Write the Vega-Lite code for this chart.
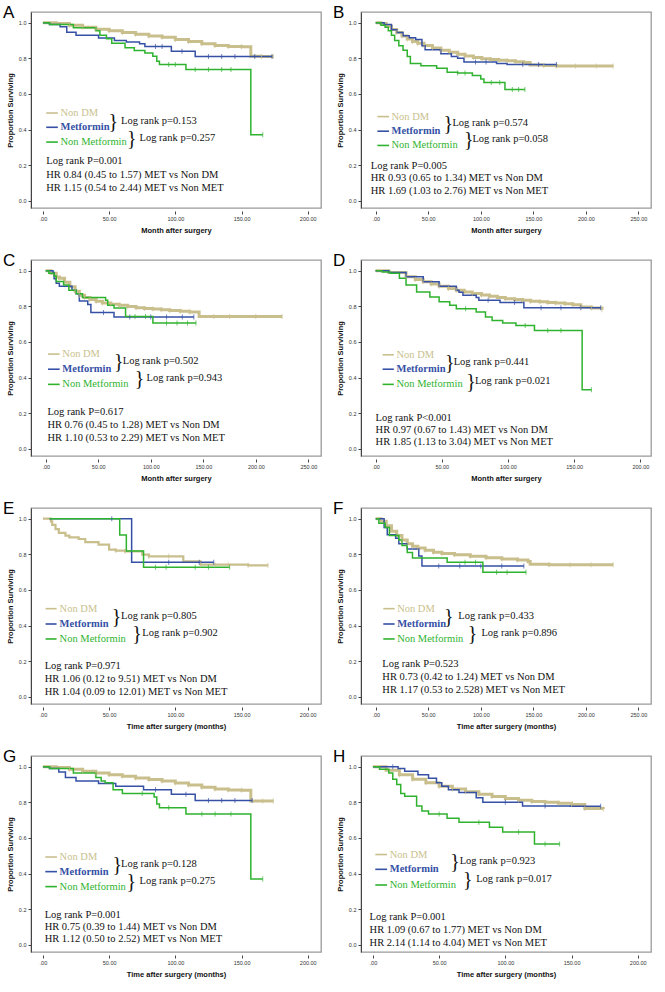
{
"$schema": "https://vega.github.io/schema/vega-lite/v6.json",
"background": "white",
"padding": {"left": 2, "top": 3, "right": 2, "bottom": 0},
"columns": 2,
"spacing": {"row": 16, "column": 10},
"datasets": {
"km": [
{"p":"A","g":"Non DM","t":0,"s":1},{"p":"A","g":"Non DM","t":10,"s":0.995},{"p":"A","g":"Non DM","t":20,"s":0.985,"c":1},{"p":"A","g":"Non DM","t":30,"s":0.975,"c":1},{"p":"A","g":"Non DM","t":40,"s":0.963,"c":1},{"p":"A","g":"Non DM","t":50,"s":0.955,"c":1},{"p":"A","g":"Non DM","t":60,"s":0.945,"c":1},{"p":"A","g":"Non DM","t":70,"s":0.935,"c":1},{"p":"A","g":"Non DM","t":80,"s":0.926,"c":1},{"p":"A","g":"Non DM","t":90,"s":0.918,"c":1},{"p":"A","g":"Non DM","t":100,"s":0.905,"c":1},{"p":"A","g":"Non DM","t":110,"s":0.895,"c":1},{"p":"A","g":"Non DM","t":120,"s":0.882,"c":1},{"p":"A","g":"Non DM","t":130,"s":0.872,"c":1},{"p":"A","g":"Non DM","t":140,"s":0.866,"c":1},{"p":"A","g":"Non DM","t":150,"s":0.865,"c":1},{"p":"A","g":"Non DM","t":157,"s":0.812},{"p":"A","g":"Non DM","t":165,"s":0.81,"c":1},{"p":"A","g":"Non DM","t":174,"s":0.81,"c":1},
{"p":"A","g":"Metformin","t":0,"s":1},{"p":"A","g":"Metformin","t":5,"s":0.99},{"p":"A","g":"Metformin","t":13,"s":0.977},{"p":"A","g":"Metformin","t":18,"s":0.947},{"p":"A","g":"Metformin","t":25,"s":0.929},{"p":"A","g":"Metformin","t":42,"s":0.914},{"p":"A","g":"Metformin","t":54,"s":0.9},{"p":"A","g":"Metformin","t":63,"s":0.891},{"p":"A","g":"Metformin","t":73,"s":0.882},{"p":"A","g":"Metformin","t":77,"s":0.866},{"p":"A","g":"Metformin","t":85,"s":0.866,"c":1},{"p":"A","g":"Metformin","t":90,"s":0.866,"c":1},{"p":"A","g":"Metformin","t":97,"s":0.84},{"p":"A","g":"Metformin","t":105,"s":0.84,"c":1},{"p":"A","g":"Metformin","t":115,"s":0.81},{"p":"A","g":"Metformin","t":125,"s":0.81,"c":1},{"p":"A","g":"Metformin","t":135,"s":0.81,"c":1},{"p":"A","g":"Metformin","t":145,"s":0.81,"c":1},{"p":"A","g":"Metformin","t":160,"s":0.81,"c":1},{"p":"A","g":"Metformin","t":173,"s":0.81,"c":1},
{"p":"A","g":"Non Metformin","t":0,"s":1},{"p":"A","g":"Non Metformin","t":5,"s":0.99},{"p":"A","g":"Non Metformin","t":23,"s":0.972},{"p":"A","g":"Non Metformin","t":40,"s":0.955},{"p":"A","g":"Non Metformin","t":43,"s":0.93},{"p":"A","g":"Non Metformin","t":48,"s":0.91},{"p":"A","g":"Non Metformin","t":52,"s":0.884},{"p":"A","g":"Non Metformin","t":62,"s":0.86},{"p":"A","g":"Non Metformin","t":69,"s":0.844},{"p":"A","g":"Non Metformin","t":77,"s":0.83},{"p":"A","g":"Non Metformin","t":83,"s":0.812},{"p":"A","g":"Non Metformin","t":86,"s":0.784},{"p":"A","g":"Non Metformin","t":88,"s":0.765},{"p":"A","g":"Non Metformin","t":95,"s":0.765,"c":1},{"p":"A","g":"Non Metformin","t":100,"s":0.765,"c":1},{"p":"A","g":"Non Metformin","t":108,"s":0.737},{"p":"A","g":"Non Metformin","t":115,"s":0.737,"c":1},{"p":"A","g":"Non Metformin","t":125,"s":0.737,"c":1},{"p":"A","g":"Non Metformin","t":135,"s":0.737,"c":1},{"p":"A","g":"Non Metformin","t":142,"s":0.737,"c":1},{"p":"A","g":"Non Metformin","t":157,"s":0.371},{"p":"A","g":"Non Metformin","t":166,"s":0.371,"c":1},

{"p":"B","g":"Non DM","t":0,"s":1},{"p":"B","g":"Non DM","t":5,"s":0.995},{"p":"B","g":"Non DM","t":10,"s":0.98},{"p":"B","g":"Non DM","t":15,"s":0.962},{"p":"B","g":"Non DM","t":20,"s":0.945,"c":1},{"p":"B","g":"Non DM","t":25,"s":0.925,"c":1},{"p":"B","g":"Non DM","t":30,"s":0.909,"c":1},{"p":"B","g":"Non DM","t":35,"s":0.895,"c":1},{"p":"B","g":"Non DM","t":40,"s":0.885,"c":1},{"p":"B","g":"Non DM","t":46,"s":0.872,"c":1},{"p":"B","g":"Non DM","t":54,"s":0.858,"c":1},{"p":"B","g":"Non DM","t":62,"s":0.845,"c":1},{"p":"B","g":"Non DM","t":70,"s":0.834,"c":1},{"p":"B","g":"Non DM","t":78,"s":0.823,"c":1},{"p":"B","g":"Non DM","t":85,"s":0.813,"c":1},{"p":"B","g":"Non DM","t":93,"s":0.804,"c":1},{"p":"B","g":"Non DM","t":101,"s":0.798,"c":1},{"p":"B","g":"Non DM","t":109,"s":0.793,"c":1},{"p":"B","g":"Non DM","t":117,"s":0.789,"c":1},{"p":"B","g":"Non DM","t":125,"s":0.786,"c":1},{"p":"B","g":"Non DM","t":133,"s":0.781,"c":1},{"p":"B","g":"Non DM","t":141,"s":0.777,"c":1},{"p":"B","g":"Non DM","t":147,"s":0.762},{"p":"B","g":"Non DM","t":160,"s":0.76,"c":1},{"p":"B","g":"Non DM","t":172,"s":0.757,"c":1},{"p":"B","g":"Non DM","t":190,"s":0.757,"c":1},{"p":"B","g":"Non DM","t":210,"s":0.757,"c":1},{"p":"B","g":"Non DM","t":226,"s":0.757,"c":1},
{"p":"B","g":"Metformin","t":0,"s":1},{"p":"B","g":"Metformin","t":8,"s":0.99},{"p":"B","g":"Metformin","t":15,"s":0.96},{"p":"B","g":"Metformin","t":20,"s":0.945},{"p":"B","g":"Metformin","t":26,"s":0.927},{"p":"B","g":"Metformin","t":32,"s":0.915},{"p":"B","g":"Metformin","t":38,"s":0.905},{"p":"B","g":"Metformin","t":44,"s":0.87},{"p":"B","g":"Metformin","t":47,"s":0.848},{"p":"B","g":"Metformin","t":62,"s":0.826},{"p":"B","g":"Metformin","t":72,"s":0.81},{"p":"B","g":"Metformin","t":78,"s":0.8},{"p":"B","g":"Metformin","t":84,"s":0.78},{"p":"B","g":"Metformin","t":95,"s":0.78,"c":1},{"p":"B","g":"Metformin","t":105,"s":0.78,"c":1},{"p":"B","g":"Metformin","t":115,"s":0.771},{"p":"B","g":"Metformin","t":125,"s":0.766},{"p":"B","g":"Metformin","t":140,"s":0.766,"c":1},{"p":"B","g":"Metformin","t":155,"s":0.766,"c":1},{"p":"B","g":"Metformin","t":172,"s":0.766,"c":1},
{"p":"B","g":"Non Metformin","t":0,"s":1},{"p":"B","g":"Non Metformin","t":5,"s":0.985},{"p":"B","g":"Non Metformin","t":9,"s":0.975},{"p":"B","g":"Non Metformin","t":12,"s":0.955},{"p":"B","g":"Non Metformin","t":15,"s":0.93},{"p":"B","g":"Non Metformin","t":18,"s":0.9},{"p":"B","g":"Non Metformin","t":22,"s":0.87},{"p":"B","g":"Non Metformin","t":26,"s":0.845},{"p":"B","g":"Non Metformin","t":30,"s":0.81},{"p":"B","g":"Non Metformin","t":33,"s":0.771},{"p":"B","g":"Non Metformin","t":43,"s":0.759},{"p":"B","g":"Non Metformin","t":58,"s":0.744},{"p":"B","g":"Non Metformin","t":68,"s":0.722},{"p":"B","g":"Non Metformin","t":78,"s":0.717,"c":1},{"p":"B","g":"Non Metformin","t":85,"s":0.717,"c":1},{"p":"B","g":"Non Metformin","t":92,"s":0.704},{"p":"B","g":"Non Metformin","t":100,"s":0.684},{"p":"B","g":"Non Metformin","t":103,"s":0.665},{"p":"B","g":"Non Metformin","t":110,"s":0.665,"c":1},{"p":"B","g":"Non Metformin","t":118,"s":0.665,"c":1},{"p":"B","g":"Non Metformin","t":123,"s":0.625},{"p":"B","g":"Non Metformin","t":130,"s":0.625,"c":1},{"p":"B","g":"Non Metformin","t":136,"s":0.625,"c":1},{"p":"B","g":"Non Metformin","t":142,"s":0.625,"c":1},

{"p":"C","g":"Non DM","t":0,"s":1},{"p":"C","g":"Non DM","t":5,"s":0.985},{"p":"C","g":"Non DM","t":10,"s":0.965},{"p":"C","g":"Non DM","t":13,"s":0.957},{"p":"C","g":"Non DM","t":18,"s":0.935},{"p":"C","g":"Non DM","t":23,"s":0.91},{"p":"C","g":"Non DM","t":28,"s":0.885,"c":1},{"p":"C","g":"Non DM","t":32,"s":0.862,"c":1},{"p":"C","g":"Non DM","t":37,"s":0.85,"c":1},{"p":"C","g":"Non DM","t":42,"s":0.838,"c":1},{"p":"C","g":"Non DM","t":48,"s":0.828,"c":1},{"p":"C","g":"Non DM","t":54,"s":0.819,"c":1},{"p":"C","g":"Non DM","t":62,"s":0.812,"c":1},{"p":"C","g":"Non DM","t":70,"s":0.806,"c":1},{"p":"C","g":"Non DM","t":78,"s":0.799,"c":1},{"p":"C","g":"Non DM","t":86,"s":0.792,"c":1},{"p":"C","g":"Non DM","t":94,"s":0.788,"c":1},{"p":"C","g":"Non DM","t":102,"s":0.785,"c":1},{"p":"C","g":"Non DM","t":110,"s":0.781,"c":1},{"p":"C","g":"Non DM","t":118,"s":0.777,"c":1},{"p":"C","g":"Non DM","t":128,"s":0.772,"c":1},{"p":"C","g":"Non DM","t":137,"s":0.768,"c":1},{"p":"C","g":"Non DM","t":146,"s":0.743},{"p":"C","g":"Non DM","t":160,"s":0.743,"c":1},{"p":"C","g":"Non DM","t":175,"s":0.743,"c":1},{"p":"C","g":"Non DM","t":200,"s":0.743,"c":1},{"p":"C","g":"Non DM","t":225,"s":0.743,"c":1},
{"p":"C","g":"Metformin","t":0,"s":1},{"p":"C","g":"Metformin","t":7,"s":0.99},{"p":"C","g":"Metformin","t":8,"s":0.955},{"p":"C","g":"Metformin","t":10,"s":0.93},{"p":"C","g":"Metformin","t":13,"s":0.913},{"p":"C","g":"Metformin","t":25,"s":0.89},{"p":"C","g":"Metformin","t":29,"s":0.87},{"p":"C","g":"Metformin","t":32,"s":0.83},{"p":"C","g":"Metformin","t":40,"s":0.81},{"p":"C","g":"Metformin","t":43,"s":0.765},{"p":"C","g":"Metformin","t":55,"s":0.765,"c":1},{"p":"C","g":"Metformin","t":65,"s":0.74},{"p":"C","g":"Metformin","t":80,"s":0.74,"c":1},{"p":"C","g":"Metformin","t":100,"s":0.74,"c":1},{"p":"C","g":"Metformin","t":115,"s":0.74,"c":1},{"p":"C","g":"Metformin","t":130,"s":0.74,"c":1},{"p":"C","g":"Metformin","t":141,"s":0.74,"c":1},
{"p":"C","g":"Non Metformin","t":0,"s":1},{"p":"C","g":"Non Metformin","t":3,"s":0.985},{"p":"C","g":"Non Metformin","t":8,"s":0.97},{"p":"C","g":"Non Metformin","t":10,"s":0.94},{"p":"C","g":"Non Metformin","t":17,"s":0.92},{"p":"C","g":"Non Metformin","t":22,"s":0.89},{"p":"C","g":"Non Metformin","t":29,"s":0.87},{"p":"C","g":"Non Metformin","t":35,"s":0.85},{"p":"C","g":"Non Metformin","t":57,"s":0.834},{"p":"C","g":"Non Metformin","t":59,"s":0.806},{"p":"C","g":"Non Metformin","t":65,"s":0.79},{"p":"C","g":"Non Metformin","t":76,"s":0.743},{"p":"C","g":"Non Metformin","t":85,"s":0.743,"c":1},{"p":"C","g":"Non Metformin","t":95,"s":0.743,"c":1},{"p":"C","g":"Non Metformin","t":102,"s":0.706},{"p":"C","g":"Non Metformin","t":115,"s":0.706,"c":1},{"p":"C","g":"Non Metformin","t":125,"s":0.706,"c":1},{"p":"C","g":"Non Metformin","t":135,"s":0.706,"c":1},{"p":"C","g":"Non Metformin","t":143,"s":0.706,"c":1},

{"p":"D","g":"Non DM","t":0,"s":1},{"p":"D","g":"Non DM","t":10,"s":0.99},{"p":"D","g":"Non DM","t":23,"s":0.966,"c":1},{"p":"D","g":"Non DM","t":30,"s":0.95,"c":1},{"p":"D","g":"Non DM","t":36,"s":0.938,"c":1},{"p":"D","g":"Non DM","t":42,"s":0.925,"c":1},{"p":"D","g":"Non DM","t":48,"s":0.913,"c":1},{"p":"D","g":"Non DM","t":55,"s":0.9,"c":1},{"p":"D","g":"Non DM","t":61,"s":0.89,"c":1},{"p":"D","g":"Non DM","t":67,"s":0.881,"c":1},{"p":"D","g":"Non DM","t":73,"s":0.872,"c":1},{"p":"D","g":"Non DM","t":80,"s":0.864,"c":1},{"p":"D","g":"Non DM","t":86,"s":0.857,"c":1},{"p":"D","g":"Non DM","t":92,"s":0.85,"c":1},{"p":"D","g":"Non DM","t":98,"s":0.843,"c":1},{"p":"D","g":"Non DM","t":105,"s":0.838,"c":1},{"p":"D","g":"Non DM","t":111,"s":0.834,"c":1},{"p":"D","g":"Non DM","t":117,"s":0.829,"c":1},{"p":"D","g":"Non DM","t":124,"s":0.825,"c":1},{"p":"D","g":"Non DM","t":130,"s":0.822,"c":1},{"p":"D","g":"Non DM","t":136,"s":0.819,"c":1},{"p":"D","g":"Non DM","t":143,"s":0.814,"c":1},{"p":"D","g":"Non DM","t":149,"s":0.809,"c":1},{"p":"D","g":"Non DM","t":155,"s":0.796,"c":1},{"p":"D","g":"Non DM","t":163,"s":0.79,"c":1},{"p":"D","g":"Non DM","t":171,"s":0.781,"c":1},
{"p":"D","g":"Metformin","t":0,"s":1},{"p":"D","g":"Metformin","t":10,"s":0.99},{"p":"D","g":"Metformin","t":23,"s":0.966},{"p":"D","g":"Metformin","t":36,"s":0.938},{"p":"D","g":"Metformin","t":48,"s":0.913},{"p":"D","g":"Metformin","t":61,"s":0.89},{"p":"D","g":"Metformin","t":63,"s":0.879},{"p":"D","g":"Metformin","t":66,"s":0.862},{"p":"D","g":"Metformin","t":76,"s":0.849},{"p":"D","g":"Metformin","t":78,"s":0.834},{"p":"D","g":"Metformin","t":85,"s":0.834,"c":1},{"p":"D","g":"Metformin","t":94,"s":0.821},{"p":"D","g":"Metformin","t":105,"s":0.821,"c":1},{"p":"D","g":"Metformin","t":112,"s":0.792},{"p":"D","g":"Metformin","t":125,"s":0.792,"c":1},{"p":"D","g":"Metformin","t":140,"s":0.792,"c":1},{"p":"D","g":"Metformin","t":155,"s":0.792,"c":1},{"p":"D","g":"Metformin","t":170,"s":0.792,"c":1},
{"p":"D","g":"Non Metformin","t":0,"s":1},{"p":"D","g":"Non Metformin","t":5,"s":0.993},{"p":"D","g":"Non Metformin","t":11,"s":0.985},{"p":"D","g":"Non Metformin","t":18,"s":0.957},{"p":"D","g":"Non Metformin","t":23,"s":0.919},{"p":"D","g":"Non Metformin","t":31,"s":0.881},{"p":"D","g":"Non Metformin","t":41,"s":0.853},{"p":"D","g":"Non Metformin","t":48,"s":0.825},{"p":"D","g":"Non Metformin","t":56,"s":0.806},{"p":"D","g":"Non Metformin","t":61,"s":0.787},{"p":"D","g":"Non Metformin","t":68,"s":0.787,"c":1},{"p":"D","g":"Non Metformin","t":76,"s":0.768},{"p":"D","g":"Non Metformin","t":83,"s":0.74},{"p":"D","g":"Non Metformin","t":88,"s":0.721},{"p":"D","g":"Non Metformin","t":96,"s":0.706},{"p":"D","g":"Non Metformin","t":106,"s":0.692},{"p":"D","g":"Non Metformin","t":113,"s":0.692,"c":1},{"p":"D","g":"Non Metformin","t":120,"s":0.664},{"p":"D","g":"Non Metformin","t":130,"s":0.664,"c":1},{"p":"D","g":"Non Metformin","t":140,"s":0.664,"c":1},{"p":"D","g":"Non Metformin","t":156,"s":0.332},{"p":"D","g":"Non Metformin","t":163,"s":0.332,"c":1},

{"p":"E","g":"Non DM","t":0,"s":1},{"p":"E","g":"Non DM","t":6,"s":0.985},{"p":"E","g":"Non DM","t":7,"s":0.965},{"p":"E","g":"Non DM","t":9.5,"s":0.942},{"p":"E","g":"Non DM","t":12,"s":0.92},{"p":"E","g":"Non DM","t":17,"s":0.905},{"p":"E","g":"Non DM","t":20,"s":0.895},{"p":"E","g":"Non DM","t":27,"s":0.886},{"p":"E","g":"Non DM","t":32,"s":0.869},{"p":"E","g":"Non DM","t":42,"s":0.854},{"p":"E","g":"Non DM","t":50,"s":0.826},{"p":"E","g":"Non DM","t":55,"s":0.821,"c":1},{"p":"E","g":"Non DM","t":62,"s":0.817,"c":1},{"p":"E","g":"Non DM","t":75,"s":0.798},{"p":"E","g":"Non DM","t":80,"s":0.789,"c":1},{"p":"E","g":"Non DM","t":95,"s":0.789,"c":1},{"p":"E","g":"Non DM","t":106,"s":0.761},{"p":"E","g":"Non DM","t":119,"s":0.742,"c":1},{"p":"E","g":"Non DM","t":130,"s":0.742,"c":1},{"p":"E","g":"Non DM","t":140,"s":0.742,"c":1},{"p":"E","g":"Non DM","t":155,"s":0.738,"c":1},{"p":"E","g":"Non DM","t":170,"s":0.738,"c":1},
{"p":"E","g":"Metformin","t":5,"s":1},{"p":"E","g":"Metformin","t":52,"s":1,"c":1},{"p":"E","g":"Metformin","t":67,"s":0.755},{"p":"E","g":"Metformin","t":95,"s":0.755,"c":1},{"p":"E","g":"Metformin","t":118,"s":0.755,"c":1},{"p":"E","g":"Metformin","t":129,"s":0.755,"c":1},
{"p":"E","g":"Non Metformin","t":5,"s":1},{"p":"E","g":"Non Metformin","t":58,"s":0.909},{"p":"E","g":"Non Metformin","t":63,"s":0.818},{"p":"E","g":"Non Metformin","t":76,"s":0.727},{"p":"E","g":"Non Metformin","t":85,"s":0.727,"c":1},{"p":"E","g":"Non Metformin","t":93,"s":0.727,"c":1},{"p":"E","g":"Non Metformin","t":115,"s":0.727,"c":1},{"p":"E","g":"Non Metformin","t":125,"s":0.727,"c":1},{"p":"E","g":"Non Metformin","t":141,"s":0.727,"c":1},

{"p":"F","g":"Non DM","t":0,"s":1},{"p":"F","g":"Non DM","t":5,"s":0.985},{"p":"F","g":"Non DM","t":10,"s":0.96},{"p":"F","g":"Non DM","t":15,"s":0.93},{"p":"F","g":"Non DM","t":20,"s":0.905},{"p":"F","g":"Non DM","t":25,"s":0.88,"c":1},{"p":"F","g":"Non DM","t":30,"s":0.86,"c":1},{"p":"F","g":"Non DM","t":35,"s":0.845,"c":1},{"p":"F","g":"Non DM","t":40,"s":0.835,"c":1},{"p":"F","g":"Non DM","t":47,"s":0.823,"c":1},{"p":"F","g":"Non DM","t":55,"s":0.812,"c":1},{"p":"F","g":"Non DM","t":63,"s":0.805,"c":1},{"p":"F","g":"Non DM","t":75,"s":0.797,"c":1},{"p":"F","g":"Non DM","t":90,"s":0.789,"c":1},{"p":"F","g":"Non DM","t":105,"s":0.781,"c":1},{"p":"F","g":"Non DM","t":120,"s":0.774,"c":1},{"p":"F","g":"Non DM","t":135,"s":0.768,"c":1},{"p":"F","g":"Non DM","t":145,"s":0.76,"c":1},{"p":"F","g":"Non DM","t":147,"s":0.745},{"p":"F","g":"Non DM","t":165,"s":0.742,"c":1},{"p":"F","g":"Non DM","t":185,"s":0.742,"c":1},{"p":"F","g":"Non DM","t":205,"s":0.742,"c":1},{"p":"F","g":"Non DM","t":226,"s":0.742,"c":1},
{"p":"F","g":"Metformin","t":0,"s":1},{"p":"F","g":"Metformin","t":8,"s":0.95},{"p":"F","g":"Metformin","t":11,"s":0.91},{"p":"F","g":"Metformin","t":19,"s":0.89},{"p":"F","g":"Metformin","t":22,"s":0.86},{"p":"F","g":"Metformin","t":30,"s":0.83},{"p":"F","g":"Metformin","t":41,"s":0.79},{"p":"F","g":"Metformin","t":44,"s":0.735},{"p":"F","g":"Metformin","t":60,"s":0.735,"c":1},{"p":"F","g":"Metformin","t":80,"s":0.735,"c":1},{"p":"F","g":"Metformin","t":100,"s":0.735,"c":1},{"p":"F","g":"Metformin","t":120,"s":0.735,"c":1},{"p":"F","g":"Metformin","t":141,"s":0.735,"c":1},
{"p":"F","g":"Non Metformin","t":0,"s":1},{"p":"F","g":"Non Metformin","t":3,"s":0.975},{"p":"F","g":"Non Metformin","t":9,"s":0.95},{"p":"F","g":"Non Metformin","t":13,"s":0.905},{"p":"F","g":"Non Metformin","t":22,"s":0.88},{"p":"F","g":"Non Metformin","t":25,"s":0.85},{"p":"F","g":"Non Metformin","t":30,"s":0.81},{"p":"F","g":"Non Metformin","t":35,"s":0.779},{"p":"F","g":"Non Metformin","t":68,"s":0.755},{"p":"F","g":"Non Metformin","t":85,"s":0.755,"c":1},{"p":"F","g":"Non Metformin","t":95,"s":0.755,"c":1},{"p":"F","g":"Non Metformin","t":102,"s":0.699},{"p":"F","g":"Non Metformin","t":115,"s":0.699,"c":1},{"p":"F","g":"Non Metformin","t":125,"s":0.699,"c":1},{"p":"F","g":"Non Metformin","t":143,"s":0.699,"c":1},

{"p":"G","g":"Non DM","t":0,"s":1},{"p":"G","g":"Non DM","t":10,"s":0.995},{"p":"G","g":"Non DM","t":20,"s":0.985,"c":1},{"p":"G","g":"Non DM","t":30,"s":0.975,"c":1},{"p":"G","g":"Non DM","t":40,"s":0.965,"c":1},{"p":"G","g":"Non DM","t":50,"s":0.955,"c":1},{"p":"G","g":"Non DM","t":60,"s":0.947,"c":1},{"p":"G","g":"Non DM","t":70,"s":0.937,"c":1},{"p":"G","g":"Non DM","t":80,"s":0.928,"c":1},{"p":"G","g":"Non DM","t":90,"s":0.92,"c":1},{"p":"G","g":"Non DM","t":100,"s":0.908,"c":1},{"p":"G","g":"Non DM","t":110,"s":0.897,"c":1},{"p":"G","g":"Non DM","t":120,"s":0.885,"c":1},{"p":"G","g":"Non DM","t":130,"s":0.875,"c":1},{"p":"G","g":"Non DM","t":140,"s":0.869,"c":1},{"p":"G","g":"Non DM","t":150,"s":0.868,"c":1},{"p":"G","g":"Non DM","t":157,"s":0.808},{"p":"G","g":"Non DM","t":166,"s":0.808,"c":1},{"p":"G","g":"Non DM","t":174,"s":0.808,"c":1},
{"p":"G","g":"Metformin","t":0,"s":1},{"p":"G","g":"Metformin","t":5,"s":0.99},{"p":"G","g":"Metformin","t":12,"s":0.97},{"p":"G","g":"Metformin","t":17,"s":0.94},{"p":"G","g":"Metformin","t":25,"s":0.92},{"p":"G","g":"Metformin","t":42,"s":0.905},{"p":"G","g":"Metformin","t":55,"s":0.89},{"p":"G","g":"Metformin","t":76,"s":0.87},{"p":"G","g":"Metformin","t":85,"s":0.87,"c":1},{"p":"G","g":"Metformin","t":97,"s":0.845},{"p":"G","g":"Metformin","t":108,"s":0.845,"c":1},{"p":"G","g":"Metformin","t":115,"s":0.81},{"p":"G","g":"Metformin","t":125,"s":0.81,"c":1},{"p":"G","g":"Metformin","t":135,"s":0.81,"c":1},{"p":"G","g":"Metformin","t":145,"s":0.81,"c":1},{"p":"G","g":"Metformin","t":158,"s":0.81,"c":1},
{"p":"G","g":"Non Metformin","t":0,"s":1},{"p":"G","g":"Non Metformin","t":5,"s":0.99},{"p":"G","g":"Non Metformin","t":23,"s":0.965},{"p":"G","g":"Non Metformin","t":40,"s":0.94},{"p":"G","g":"Non Metformin","t":44,"s":0.92},{"p":"G","g":"Non Metformin","t":47,"s":0.91},{"p":"G","g":"Non Metformin","t":53,"s":0.87},{"p":"G","g":"Non Metformin","t":60,"s":0.85},{"p":"G","g":"Non Metformin","t":75,"s":0.85,"c":1},{"p":"G","g":"Non Metformin","t":84,"s":0.83},{"p":"G","g":"Non Metformin","t":86,"s":0.79},{"p":"G","g":"Non Metformin","t":88,"s":0.77},{"p":"G","g":"Non Metformin","t":95,"s":0.77,"c":1},{"p":"G","g":"Non Metformin","t":108,"s":0.735},{"p":"G","g":"Non Metformin","t":120,"s":0.735,"c":1},{"p":"G","g":"Non Metformin","t":130,"s":0.735,"c":1},{"p":"G","g":"Non Metformin","t":142,"s":0.735,"c":1},{"p":"G","g":"Non Metformin","t":157,"s":0.37},{"p":"G","g":"Non Metformin","t":166,"s":0.37,"c":1},

{"p":"H","g":"Non DM","t":0,"s":1},{"p":"H","g":"Non DM","t":10,"s":0.98},{"p":"H","g":"Non DM","t":20,"s":0.955,"c":1},{"p":"H","g":"Non DM","t":30,"s":0.93,"c":1},{"p":"H","g":"Non DM","t":40,"s":0.91,"c":1},{"p":"H","g":"Non DM","t":50,"s":0.89,"c":1},{"p":"H","g":"Non DM","t":60,"s":0.875,"c":1},{"p":"H","g":"Non DM","t":70,"s":0.86,"c":1},{"p":"H","g":"Non DM","t":80,"s":0.845,"c":1},{"p":"H","g":"Non DM","t":90,"s":0.833,"c":1},{"p":"H","g":"Non DM","t":100,"s":0.822,"c":1},{"p":"H","g":"Non DM","t":110,"s":0.812,"c":1},{"p":"H","g":"Non DM","t":120,"s":0.805,"c":1},{"p":"H","g":"Non DM","t":130,"s":0.8,"c":1},{"p":"H","g":"Non DM","t":140,"s":0.795,"c":1},{"p":"H","g":"Non DM","t":150,"s":0.788,"c":1},{"p":"H","g":"Non DM","t":160,"s":0.765,"c":1},{"p":"H","g":"Non DM","t":174,"s":0.762,"c":1},
{"p":"H","g":"Metformin","t":0,"s":1},{"p":"H","g":"Metformin","t":15,"s":1,"c":1},{"p":"H","g":"Metformin","t":19,"s":0.99},{"p":"H","g":"Metformin","t":24,"s":0.975},{"p":"H","g":"Metformin","t":34,"s":0.955},{"p":"H","g":"Metformin","t":42,"s":0.935},{"p":"H","g":"Metformin","t":48,"s":0.91},{"p":"H","g":"Metformin","t":52,"s":0.89},{"p":"H","g":"Metformin","t":57,"s":0.87},{"p":"H","g":"Metformin","t":65,"s":0.855},{"p":"H","g":"Metformin","t":78,"s":0.825},{"p":"H","g":"Metformin","t":83,"s":0.8},{"p":"H","g":"Metformin","t":100,"s":0.8,"c":1},{"p":"H","g":"Metformin","t":113,"s":0.78},{"p":"H","g":"Metformin","t":130,"s":0.78,"c":1},{"p":"H","g":"Metformin","t":149,"s":0.778},{"p":"H","g":"Metformin","t":172,"s":0.778,"c":1},
{"p":"H","g":"Non Metformin","t":0,"s":1},{"p":"H","g":"Non Metformin","t":5,"s":0.985},{"p":"H","g":"Non Metformin","t":12,"s":0.965},{"p":"H","g":"Non Metformin","t":15,"s":0.93},{"p":"H","g":"Non Metformin","t":18,"s":0.9},{"p":"H","g":"Non Metformin","t":21,"s":0.85},{"p":"H","g":"Non Metformin","t":24,"s":0.834},{"p":"H","g":"Non Metformin","t":33,"s":0.78},{"p":"H","g":"Non Metformin","t":37,"s":0.751},{"p":"H","g":"Non Metformin","t":42,"s":0.734},{"p":"H","g":"Non Metformin","t":50,"s":0.734,"c":1},{"p":"H","g":"Non Metformin","t":56,"s":0.71},{"p":"H","g":"Non Metformin","t":65,"s":0.688},{"p":"H","g":"Non Metformin","t":80,"s":0.688,"c":1},{"p":"H","g":"Non Metformin","t":88,"s":0.66},{"p":"H","g":"Non Metformin","t":98,"s":0.633},{"p":"H","g":"Non Metformin","t":110,"s":0.633,"c":1},{"p":"H","g":"Non Metformin","t":122,"s":0.566},{"p":"H","g":"Non Metformin","t":130,"s":0.566,"c":1},{"p":"H","g":"Non Metformin","t":141,"s":0.566,"c":1}
],
"leg": [
{"p":"A","g":"Non DM","t":2.5,"t2":11.3,"s":0.493},{"p":"A","g":"Metformin","t":2.5,"t2":11.3,"s":0.413},{"p":"A","g":"Non Metformin","t":2.5,"t2":11.3,"s":0.33},
{"p":"B","g":"Non DM","t":1.6,"t2":12.7,"s":0.473},{"p":"B","g":"Metformin","t":1.6,"t2":12.7,"s":0.391},{"p":"B","g":"Non Metformin","t":1.6,"t2":12.7,"s":0.311},
{"p":"C","g":"Non DM","t":2.2,"t2":13.3,"s":0.532},{"p":"C","g":"Metformin","t":2.2,"t2":13.3,"s":0.447},{"p":"C","g":"Non Metformin","t":2.2,"t2":13.3,"s":0.362},
{"p":"D","g":"Non DM","t":5.3,"t2":13.8,"s":0.528},{"p":"D","g":"Metformin","t":5.3,"t2":13.8,"s":0.447},{"p":"D","g":"Non Metformin","t":5.3,"t2":13.8,"s":0.362},
{"p":"E","g":"Non DM","t":2,"t2":10.3,"s":0.495},{"p":"E","g":"Metformin","t":2,"t2":10.3,"s":0.409},{"p":"E","g":"Non Metformin","t":2,"t2":10.3,"s":0.325},
{"p":"F","g":"Non DM","t":7.2,"t2":18,"s":0.495},{"p":"F","g":"Metformin","t":7.2,"t2":18,"s":0.409},{"p":"F","g":"Non Metformin","t":7.2,"t2":18,"s":0.325},
{"p":"G","g":"Non DM","t":1.8,"t2":10.6,"s":0.493},{"p":"G","g":"Metformin","t":1.8,"t2":10.6,"s":0.411},{"p":"G","g":"Non Metformin","t":1.8,"t2":10.6,"s":0.327},
{"p":"H","g":"Non DM","t":1.8,"t2":10.7,"s":0.507},{"p":"H","g":"Metformin","t":1.8,"t2":10.7,"s":0.424},{"p":"H","g":"Non Metformin","t":1.8,"t2":10.7,"s":0.336}
],
"notes": [
{"p":"A","g":"Non DM","k":"n","t":13.3,"s":0.493,"text":"Non DM"},{"p":"A","g":"Metformin","k":"b","t":13.3,"s":0.413,"text":"Metformin"},{"p":"A","g":"Non Metformin","k":"n","t":13.3,"s":0.33,"text":"Non Metformin"},
{"p":"A","g":"text","k":"br","t":51,"s":0.45,"text":"}"},{"p":"A","g":"text","k":"n","t":59,"s":0.45,"text":"Log rank p=0.153"},
{"p":"A","g":"text","k":"br","t":65,"s":0.353,"text":"}"},{"p":"A","g":"text","k":"n","t":73,"s":0.353,"text":"Log rank p=0.257"},
{"p":"A","g":"text","k":"n","t":2.5,"s":0.221,"text":"Log rank P=0.001"},{"p":"A","g":"text","k":"n","t":2.5,"s":0.146,"text":"HR 0.84 (0.45 to 1.57) MET vs Non DM"},{"p":"A","g":"text","k":"n","t":2.5,"s":0.071,"text":"HR 1.15 (0.54 to 2.44) MET vs Non MET"},

{"p":"B","g":"Non DM","k":"n","t":15,"s":0.473,"text":"Non DM"},{"p":"B","g":"Metformin","k":"b","t":15,"s":0.391,"text":"Metformin"},{"p":"B","g":"Non Metformin","k":"n","t":15,"s":0.311,"text":"Non Metformin"},
{"p":"B","g":"text","k":"br","t":66.5,"s":0.439,"text":"}"},{"p":"B","g":"text","k":"n","t":73,"s":0.439,"text":"Log rank p=0.574"},
{"p":"B","g":"text","k":"br","t":86,"s":0.346,"text":"}"},{"p":"B","g":"text","k":"n","t":92,"s":0.346,"text":"Log rank p=0.058"},
{"p":"B","g":"text","k":"n","t":-4.7,"s":0.196,"text":"Log rank P=0.005"},{"p":"B","g":"text","k":"n","t":-4.7,"s":0.127,"text":"HR 0.93 (0.65 to 1.34) MET vs Non DM"},{"p":"B","g":"text","k":"n","t":-4.7,"s":0.058,"text":"HR 1.69 (1.03 to 2.76) MET vs Non MET"},

{"p":"C","g":"Non DM","k":"n","t":15.8,"s":0.532,"text":"Non DM"},{"p":"C","g":"Metformin","k":"b","t":15.8,"s":0.447,"text":"Metformin"},{"p":"C","g":"Non Metformin","k":"n","t":15.8,"s":0.362,"text":"Non Metformin"},
{"p":"C","g":"text","k":"br","t":67,"s":0.494,"text":"}"},{"p":"C","g":"text","k":"n","t":73.4,"s":0.494,"text":"Log rank p=0.502"},
{"p":"C","g":"text","k":"br","t":86.7,"s":0.396,"text":"}"},{"p":"C","g":"text","k":"n","t":96,"s":0.396,"text":"Log rank p=0.943"},
{"p":"C","g":"text","k":"n","t":1.6,"s":0.208,"text":"Log rank P=0.617"},{"p":"C","g":"text","k":"n","t":1.6,"s":0.134,"text":"HR 0.76 (0.45 to 1.28) MET vs Non DM"},{"p":"C","g":"text","k":"n","t":1.6,"s":0.06,"text":"HR 1.10 (0.53 to 2.29) MET vs Non MET"},

{"p":"D","g":"Non DM","k":"n","t":15.8,"s":0.528,"text":"Non DM"},{"p":"D","g":"Metformin","k":"b","t":15.8,"s":0.447,"text":"Metformin"},{"p":"D","g":"Non Metformin","k":"n","t":15.8,"s":0.362,"text":"Non Metformin"},
{"p":"D","g":"text","k":"br","t":54,"s":0.49,"text":"}"},{"p":"D","g":"text","k":"n","t":59,"s":0.49,"text":"Log rank p=0.441"},
{"p":"D","g":"text","k":"br","t":70,"s":0.381,"text":"}"},{"p":"D","g":"text","k":"n","t":75,"s":0.381,"text":"Log rank p=0.021"},
{"p":"D","g":"text","k":"n","t":0,"s":0.174,"text":"Log rank P<0.001"},{"p":"D","g":"text","k":"n","t":0,"s":0.104,"text":"HR 0.97 (0.67 to 1.43) MET vs Non DM"},{"p":"D","g":"text","k":"n","t":0,"s":0.038,"text":"HR 1.85 (1.13 to 3.04) MET vs Non MET"},

{"p":"E","g":"Non DM","k":"n","t":12.6,"s":0.495,"text":"Non DM"},{"p":"E","g":"Metformin","k":"b","t":12.6,"s":0.409,"text":"Metformin"},{"p":"E","g":"Non Metformin","k":"n","t":12.6,"s":0.325,"text":"Non Metformin"},
{"p":"E","g":"text","k":"br","t":53.5,"s":0.452,"text":"}"},{"p":"E","g":"text","k":"n","t":59,"s":0.452,"text":"Log rank p=0.805"},
{"p":"E","g":"text","k":"br","t":69,"s":0.359,"text":"}"},{"p":"E","g":"text","k":"n","t":75,"s":0.359,"text":"Log rank p=0.902"},
{"p":"E","g":"text","k":"n","t":1.3,"s":0.172,"text":"Log rank P=0.971"},{"p":"E","g":"text","k":"n","t":1.3,"s":0.1,"text":"HR 1.06 (0.12 to 9.51) MET vs Non DM"},{"p":"E","g":"text","k":"n","t":1.3,"s":0.03,"text":"HR 1.04 (0.09 to 12.01) MET vs Non MET"},

{"p":"F","g":"Non DM","k":"n","t":20.4,"s":0.495,"text":"Non DM"},{"p":"F","g":"Metformin","k":"b","t":20.4,"s":0.409,"text":"Metformin"},{"p":"F","g":"Non Metformin","k":"n","t":20.4,"s":0.325,"text":"Non Metformin"},
{"p":"F","g":"text","k":"br","t":67,"s":0.456,"text":"}"},{"p":"F","g":"text","k":"n","t":78.6,"s":0.456,"text":"Log rank p=0.433"},
{"p":"F","g":"text","k":"br","t":89.6,"s":0.359,"text":"}"},{"p":"F","g":"text","k":"n","t":100.6,"s":0.359,"text":"Log rank p=0.896"},
{"p":"F","g":"text","k":"n","t":6.3,"s":0.187,"text":"Log rank P=0.523"},{"p":"F","g":"text","k":"n","t":6.3,"s":0.114,"text":"HR 0.73 (0.42 to 1.24) MET vs Non DM"},{"p":"F","g":"text","k":"n","t":6.3,"s":0.041,"text":"HR 1.17 (0.53 to 2.528) MET vs Non MET"},

{"p":"G","g":"Non DM","k":"n","t":12.6,"s":0.493,"text":"Non DM"},{"p":"G","g":"Metformin","k":"b","t":12.6,"s":0.411,"text":"Metformin"},{"p":"G","g":"Non Metformin","k":"n","t":12.6,"s":0.327,"text":"Non Metformin"},
{"p":"G","g":"text","k":"br","t":54,"s":0.456,"text":"}"},{"p":"G","g":"text","k":"n","t":59,"s":0.456,"text":"Log rank p=0.128"},
{"p":"G","g":"text","k":"br","t":64.7,"s":0.36,"text":"}"},{"p":"G","g":"text","k":"n","t":73,"s":0.36,"text":"Log rank p=0.275"},
{"p":"G","g":"text","k":"n","t":1.3,"s":0.166,"text":"Log rank P=0.001"},{"p":"G","g":"text","k":"n","t":1.3,"s":0.098,"text":"HR 0.75 (0.39 to 1.44) MET vs Non DM"},{"p":"G","g":"text","k":"n","t":1.3,"s":0.031,"text":"HR 1.12 (0.50 to 2.52) MET vs Non MET"},

{"p":"H","g":"Non DM","k":"n","t":12.7,"s":0.507,"text":"Non DM"},{"p":"H","g":"Metformin","k":"b","t":12.7,"s":0.424,"text":"Metformin"},{"p":"H","g":"Non Metformin","k":"n","t":12.7,"s":0.336,"text":"Non Metformin"},
{"p":"H","g":"text","k":"br","t":60,"s":0.47,"text":"}"},{"p":"H","g":"text","k":"n","t":65.5,"s":0.47,"text":"Log rank p=0.923"},
{"p":"H","g":"text","k":"br","t":69.6,"s":0.369,"text":"}"},{"p":"H","g":"text","k":"n","t":78,"s":0.369,"text":"Log rank p=0.017"},
{"p":"H","g":"text","k":"n","t":-2.5,"s":0.157,"text":"Log rank P=0.001"},{"p":"H","g":"text","k":"n","t":-2.5,"s":0.083,"text":"HR 1.09 (0.67 to 1.77) MET vs Non DM"},{"p":"H","g":"text","k":"n","t":-2.5,"s":0.009,"text":"HR 2.14 (1.14 to 4.04) MET vs Non MET"}
]
},
"concat": [
{"title":"A","width":290,"height":196,
"encoding":{"x":{"field":"t","type":"quantitative","scale":{"domain":[-9,210],"nice":false,"zero":false},"axis":{"values":[0,50,100,150,200],"title":"Month after surgery"}},"y":{"field":"s","type":"quantitative","scale":{"domain":[-0.04,1.06],"nice":false,"zero":false},"axis":{"values":[0,0.2,0.4,0.6,0.8,1],"format":".1f","title":"Proportion Surviving"}},"color":{"field":"g","type":"nominal","scale":{"domain":["Non DM","Metformin","Non Metformin","text"],"range":["#c9bf8d","#3550a5","#2fb32f","#111111"]},"legend":null}},
"layer":[
{"data":{"name":"km"},"transform":[{"filter":"datum.p=='A'"}],"mark":{"type":"line","interpolate":"step-after"},"encoding":{"strokeWidth":{"condition":{"test":"datum.g=='Non DM'","value":3},"value":1.5}}},
{"data":{"name":"km"},"transform":[{"filter":"datum.p=='A' && datum.c==1"}],"mark":{"type":"tick","orient":"vertical","size":5,"thickness":1}},
{"data":{"name":"leg"},"transform":[{"filter":"datum.p=='A'"}],"mark":{"type":"rule","strokeWidth":1.6},"encoding":{"x2":{"field":"t2"}}},
{"data":{"name":"notes"},"transform":[{"filter":"datum.p=='A' && datum.k=='n'"}],"mark":{"type":"text","align":"left","baseline":"middle","font":"Liberation Serif","fontSize":10.5},"encoding":{"text":{"field":"text"}}},
{"data":{"name":"notes"},"transform":[{"filter":"datum.p=='A' && datum.k=='b'"}],"mark":{"type":"text","align":"left","baseline":"middle","font":"Liberation Serif","fontSize":10.5,"fontWeight":"bold"},"encoding":{"text":{"field":"text"}}},
{"data":{"name":"notes"},"transform":[{"filter":"datum.p=='A' && datum.k=='br'"}],"mark":{"type":"text","align":"left","baseline":"middle","font":"Liberation Serif","fontSize":20,"dx":-2,"dy":1},"encoding":{"text":{"field":"text"}}}
]},
{"title":"B","width":290,"height":196,
"encoding":{"x":{"field":"t","type":"quantitative","scale":{"domain":[-14,262],"nice":false,"zero":false},"axis":{"values":[0,50,100,150,200,250],"title":"Month after surgery"}},"y":{"field":"s","type":"quantitative","scale":{"domain":[-0.04,1.06],"nice":false,"zero":false},"axis":{"values":[0,0.2,0.4,0.6,0.8,1],"format":".1f","title":"Proportion Surviving"}},"color":{"field":"g","type":"nominal","scale":{"domain":["Non DM","Metformin","Non Metformin","text"],"range":["#c9bf8d","#3550a5","#2fb32f","#111111"]},"legend":null}},
"layer":[
{"data":{"name":"km"},"transform":[{"filter":"datum.p=='B'"}],"mark":{"type":"line","interpolate":"step-after"},"encoding":{"strokeWidth":{"condition":{"test":"datum.g=='Non DM'","value":3},"value":1.5}}},
{"data":{"name":"km"},"transform":[{"filter":"datum.p=='B' && datum.c==1"}],"mark":{"type":"tick","orient":"vertical","size":5,"thickness":1}},
{"data":{"name":"leg"},"transform":[{"filter":"datum.p=='B'"}],"mark":{"type":"rule","strokeWidth":1.6},"encoding":{"x2":{"field":"t2"}}},
{"data":{"name":"notes"},"transform":[{"filter":"datum.p=='B' && datum.k=='n'"}],"mark":{"type":"text","align":"left","baseline":"middle","font":"Liberation Serif","fontSize":10.5},"encoding":{"text":{"field":"text"}}},
{"data":{"name":"notes"},"transform":[{"filter":"datum.p=='B' && datum.k=='b'"}],"mark":{"type":"text","align":"left","baseline":"middle","font":"Liberation Serif","fontSize":10.5,"fontWeight":"bold"},"encoding":{"text":{"field":"text"}}},
{"data":{"name":"notes"},"transform":[{"filter":"datum.p=='B' && datum.k=='br'"}],"mark":{"type":"text","align":"left","baseline":"middle","font":"Liberation Serif","fontSize":20,"dx":-2,"dy":1},"encoding":{"text":{"field":"text"}}}
]},
{"title":"C","width":290,"height":196,
"encoding":{"x":{"field":"t","type":"quantitative","scale":{"domain":[-14,262],"nice":false,"zero":false},"axis":{"values":[0,50,100,150,200,250],"title":"Month after surgery"}},"y":{"field":"s","type":"quantitative","scale":{"domain":[-0.04,1.06],"nice":false,"zero":false},"axis":{"values":[0,0.2,0.4,0.6,0.8,1],"format":".1f","title":"Proportion Surviving"}},"color":{"field":"g","type":"nominal","scale":{"domain":["Non DM","Metformin","Non Metformin","text"],"range":["#c9bf8d","#3550a5","#2fb32f","#111111"]},"legend":null}},
"layer":[
{"data":{"name":"km"},"transform":[{"filter":"datum.p=='C'"}],"mark":{"type":"line","interpolate":"step-after"},"encoding":{"strokeWidth":{"condition":{"test":"datum.g=='Non DM'","value":3},"value":1.5}}},
{"data":{"name":"km"},"transform":[{"filter":"datum.p=='C' && datum.c==1"}],"mark":{"type":"tick","orient":"vertical","size":5,"thickness":1}},
{"data":{"name":"leg"},"transform":[{"filter":"datum.p=='C'"}],"mark":{"type":"rule","strokeWidth":1.6},"encoding":{"x2":{"field":"t2"}}},
{"data":{"name":"notes"},"transform":[{"filter":"datum.p=='C' && datum.k=='n'"}],"mark":{"type":"text","align":"left","baseline":"middle","font":"Liberation Serif","fontSize":10.5},"encoding":{"text":{"field":"text"}}},
{"data":{"name":"notes"},"transform":[{"filter":"datum.p=='C' && datum.k=='b'"}],"mark":{"type":"text","align":"left","baseline":"middle","font":"Liberation Serif","fontSize":10.5,"fontWeight":"bold"},"encoding":{"text":{"field":"text"}}},
{"data":{"name":"notes"},"transform":[{"filter":"datum.p=='C' && datum.k=='br'"}],"mark":{"type":"text","align":"left","baseline":"middle","font":"Liberation Serif","fontSize":20,"dx":-2,"dy":1},"encoding":{"text":{"field":"text"}}}
]},
{"title":"D","width":290,"height":196,
"encoding":{"x":{"field":"t","type":"quantitative","scale":{"domain":[-11,208],"nice":false,"zero":false},"axis":{"values":[0,50,100,150,200],"title":"Month after surgery"}},"y":{"field":"s","type":"quantitative","scale":{"domain":[-0.04,1.06],"nice":false,"zero":false},"axis":{"values":[0,0.2,0.4,0.6,0.8,1],"format":".1f","title":"Proportion Surviving"}},"color":{"field":"g","type":"nominal","scale":{"domain":["Non DM","Metformin","Non Metformin","text"],"range":["#c9bf8d","#3550a5","#2fb32f","#111111"]},"legend":null}},
"layer":[
{"data":{"name":"km"},"transform":[{"filter":"datum.p=='D'"}],"mark":{"type":"line","interpolate":"step-after"},"encoding":{"strokeWidth":{"condition":{"test":"datum.g=='Non DM'","value":3},"value":1.5}}},
{"data":{"name":"km"},"transform":[{"filter":"datum.p=='D' && datum.c==1"}],"mark":{"type":"tick","orient":"vertical","size":5,"thickness":1}},
{"data":{"name":"leg"},"transform":[{"filter":"datum.p=='D'"}],"mark":{"type":"rule","strokeWidth":1.6},"encoding":{"x2":{"field":"t2"}}},
{"data":{"name":"notes"},"transform":[{"filter":"datum.p=='D' && datum.k=='n'"}],"mark":{"type":"text","align":"left","baseline":"middle","font":"Liberation Serif","fontSize":10.5},"encoding":{"text":{"field":"text"}}},
{"data":{"name":"notes"},"transform":[{"filter":"datum.p=='D' && datum.k=='b'"}],"mark":{"type":"text","align":"left","baseline":"middle","font":"Liberation Serif","fontSize":10.5,"fontWeight":"bold"},"encoding":{"text":{"field":"text"}}},
{"data":{"name":"notes"},"transform":[{"filter":"datum.p=='D' && datum.k=='br'"}],"mark":{"type":"text","align":"left","baseline":"middle","font":"Liberation Serif","fontSize":20,"dx":-2,"dy":1},"encoding":{"text":{"field":"text"}}}
]},
{"title":"E","width":290,"height":196,
"encoding":{"x":{"field":"t","type":"quantitative","scale":{"domain":[-9,210],"nice":false,"zero":false},"axis":{"values":[0,50,100,150,200],"title":"Time after surgery (months)"}},"y":{"field":"s","type":"quantitative","scale":{"domain":[-0.04,1.06],"nice":false,"zero":false},"axis":{"values":[0,0.2,0.4,0.6,0.8,1],"format":".1f","title":"Proportion Surviving"}},"color":{"field":"g","type":"nominal","scale":{"domain":["Non DM","Metformin","Non Metformin","text"],"range":["#c9bf8d","#3550a5","#2fb32f","#111111"]},"legend":null}},
"layer":[
{"data":{"name":"km"},"transform":[{"filter":"datum.p=='E'"}],"mark":{"type":"line","interpolate":"step-after"},"encoding":{"strokeWidth":{"condition":{"test":"datum.g=='Non DM'","value":2.2},"value":1.5}}},
{"data":{"name":"km"},"transform":[{"filter":"datum.p=='E' && datum.c==1"}],"mark":{"type":"tick","orient":"vertical","size":5,"thickness":1}},
{"data":{"name":"leg"},"transform":[{"filter":"datum.p=='E'"}],"mark":{"type":"rule","strokeWidth":1.6},"encoding":{"x2":{"field":"t2"}}},
{"data":{"name":"notes"},"transform":[{"filter":"datum.p=='E' && datum.k=='n'"}],"mark":{"type":"text","align":"left","baseline":"middle","font":"Liberation Serif","fontSize":10.5},"encoding":{"text":{"field":"text"}}},
{"data":{"name":"notes"},"transform":[{"filter":"datum.p=='E' && datum.k=='b'"}],"mark":{"type":"text","align":"left","baseline":"middle","font":"Liberation Serif","fontSize":10.5,"fontWeight":"bold"},"encoding":{"text":{"field":"text"}}},
{"data":{"name":"notes"},"transform":[{"filter":"datum.p=='E' && datum.k=='br'"}],"mark":{"type":"text","align":"left","baseline":"middle","font":"Liberation Serif","fontSize":20,"dx":-2,"dy":1},"encoding":{"text":{"field":"text"}}}
]},
{"title":"F","width":290,"height":196,
"encoding":{"x":{"field":"t","type":"quantitative","scale":{"domain":[-14,262],"nice":false,"zero":false},"axis":{"values":[0,50,100,150,200,250],"title":"Time after surgery (months)"}},"y":{"field":"s","type":"quantitative","scale":{"domain":[-0.04,1.06],"nice":false,"zero":false},"axis":{"values":[0,0.2,0.4,0.6,0.8,1],"format":".1f","title":"Proportion Surviving"}},"color":{"field":"g","type":"nominal","scale":{"domain":["Non DM","Metformin","Non Metformin","text"],"range":["#c9bf8d","#3550a5","#2fb32f","#111111"]},"legend":null}},
"layer":[
{"data":{"name":"km"},"transform":[{"filter":"datum.p=='F'"}],"mark":{"type":"line","interpolate":"step-after"},"encoding":{"strokeWidth":{"condition":{"test":"datum.g=='Non DM'","value":3},"value":1.5}}},
{"data":{"name":"km"},"transform":[{"filter":"datum.p=='F' && datum.c==1"}],"mark":{"type":"tick","orient":"vertical","size":5,"thickness":1}},
{"data":{"name":"leg"},"transform":[{"filter":"datum.p=='F'"}],"mark":{"type":"rule","strokeWidth":1.6},"encoding":{"x2":{"field":"t2"}}},
{"data":{"name":"notes"},"transform":[{"filter":"datum.p=='F' && datum.k=='n'"}],"mark":{"type":"text","align":"left","baseline":"middle","font":"Liberation Serif","fontSize":10.5},"encoding":{"text":{"field":"text"}}},
{"data":{"name":"notes"},"transform":[{"filter":"datum.p=='F' && datum.k=='b'"}],"mark":{"type":"text","align":"left","baseline":"middle","font":"Liberation Serif","fontSize":10.5,"fontWeight":"bold"},"encoding":{"text":{"field":"text"}}},
{"data":{"name":"notes"},"transform":[{"filter":"datum.p=='F' && datum.k=='br'"}],"mark":{"type":"text","align":"left","baseline":"middle","font":"Liberation Serif","fontSize":20,"dx":-2,"dy":1},"encoding":{"text":{"field":"text"}}}
]},
{"title":"G","width":290,"height":196,
"encoding":{"x":{"field":"t","type":"quantitative","scale":{"domain":[-9,210],"nice":false,"zero":false},"axis":{"values":[0,50,100,150,200],"title":"Time after surgery (months)"}},"y":{"field":"s","type":"quantitative","scale":{"domain":[-0.04,1.06],"nice":false,"zero":false},"axis":{"values":[0,0.2,0.4,0.6,0.8,1],"format":".1f","title":"Proportion Surviving"}},"color":{"field":"g","type":"nominal","scale":{"domain":["Non DM","Metformin","Non Metformin","text"],"range":["#c9bf8d","#3550a5","#2fb32f","#111111"]},"legend":null}},
"layer":[
{"data":{"name":"km"},"transform":[{"filter":"datum.p=='G'"}],"mark":{"type":"line","interpolate":"step-after"},"encoding":{"strokeWidth":{"condition":{"test":"datum.g=='Non DM'","value":3},"value":1.5}}},
{"data":{"name":"km"},"transform":[{"filter":"datum.p=='G' && datum.c==1"}],"mark":{"type":"tick","orient":"vertical","size":5,"thickness":1}},
{"data":{"name":"leg"},"transform":[{"filter":"datum.p=='G'"}],"mark":{"type":"rule","strokeWidth":1.6},"encoding":{"x2":{"field":"t2"}}},
{"data":{"name":"notes"},"transform":[{"filter":"datum.p=='G' && datum.k=='n'"}],"mark":{"type":"text","align":"left","baseline":"middle","font":"Liberation Serif","fontSize":10.5},"encoding":{"text":{"field":"text"}}},
{"data":{"name":"notes"},"transform":[{"filter":"datum.p=='G' && datum.k=='b'"}],"mark":{"type":"text","align":"left","baseline":"middle","font":"Liberation Serif","fontSize":10.5,"fontWeight":"bold"},"encoding":{"text":{"field":"text"}}},
{"data":{"name":"notes"},"transform":[{"filter":"datum.p=='G' && datum.k=='br'"}],"mark":{"type":"text","align":"left","baseline":"middle","font":"Liberation Serif","fontSize":20,"dx":-2,"dy":1},"encoding":{"text":{"field":"text"}}}
]},
{"title":"H","width":290,"height":196,
"encoding":{"x":{"field":"t","type":"quantitative","scale":{"domain":[-9,210],"nice":false,"zero":false},"axis":{"values":[0,50,100,150,200],"title":"Time after surgery (months)"}},"y":{"field":"s","type":"quantitative","scale":{"domain":[-0.04,1.06],"nice":false,"zero":false},"axis":{"values":[0,0.2,0.4,0.6,0.8,1],"format":".1f","title":"Proportion Surviving"}},"color":{"field":"g","type":"nominal","scale":{"domain":["Non DM","Metformin","Non Metformin","text"],"range":["#c9bf8d","#3550a5","#2fb32f","#111111"]},"legend":null}},
"layer":[
{"data":{"name":"km"},"transform":[{"filter":"datum.p=='H'"}],"mark":{"type":"line","interpolate":"step-after"},"encoding":{"strokeWidth":{"condition":{"test":"datum.g=='Non DM'","value":3},"value":1.5}}},
{"data":{"name":"km"},"transform":[{"filter":"datum.p=='H' && datum.c==1"}],"mark":{"type":"tick","orient":"vertical","size":5,"thickness":1}},
{"data":{"name":"leg"},"transform":[{"filter":"datum.p=='H'"}],"mark":{"type":"rule","strokeWidth":1.6},"encoding":{"x2":{"field":"t2"}}},
{"data":{"name":"notes"},"transform":[{"filter":"datum.p=='H' && datum.k=='n'"}],"mark":{"type":"text","align":"left","baseline":"middle","font":"Liberation Serif","fontSize":10.5},"encoding":{"text":{"field":"text"}}},
{"data":{"name":"notes"},"transform":[{"filter":"datum.p=='H' && datum.k=='b'"}],"mark":{"type":"text","align":"left","baseline":"middle","font":"Liberation Serif","fontSize":10.5,"fontWeight":"bold"},"encoding":{"text":{"field":"text"}}},
{"data":{"name":"notes"},"transform":[{"filter":"datum.p=='H' && datum.k=='br'"}],"mark":{"type":"text","align":"left","baseline":"middle","font":"Liberation Serif","fontSize":20,"dx":-2,"dy":1},"encoding":{"text":{"field":"text"}}}
]}
],
"config": {
"font": "Liberation Sans",
"view": {"stroke": "#9a9a9a", "strokeWidth": 1.3},
"axis": {"grid": false, "labelFontSize": 5.5, "labelColor": "#333", "labelFont": "Liberation Sans", "titleFont": "Liberation Sans", "titleFontSize": 7.5, "titleFontWeight": "bold", "titleColor": "#111", "tickSize": 3, "tickColor": "#444", "domainColor": "#444", "labelPadding": 2},
"axisX": {"offset": 3, "domain": false, "titlePadding": 5, "labelExpr": "datum.value == 0 ? '.00' : format(datum.value, '.2f')"},
"axisY": {"titlePadding": 4},
"title": {"fontSize": 17, "fontWeight": "normal", "anchor": "start", "frame": "group", "dx": -28, "offset": -10, "color": "#000", "font": "Liberation Sans"}
}
}
